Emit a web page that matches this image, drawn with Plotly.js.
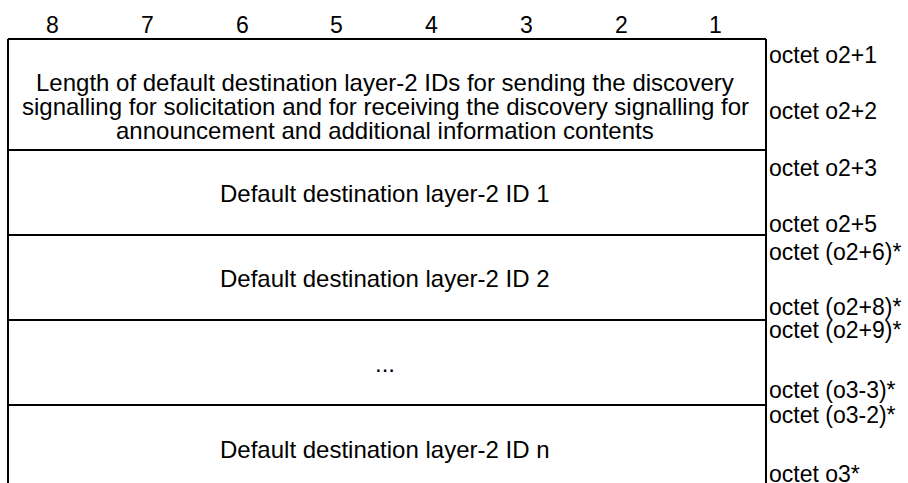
<!DOCTYPE html>
<html>
<head>
<meta charset="utf-8">
<script src="https://cdn.plot.ly/plotly-3.0.1.min.js"></script>
<style>html,body{margin:0;padding:0;background:#fff;}#chart{width:908px;height:483px;}</style>
</head>
<body>
<div id="chart"></div>
<script>
// ---- data ----
const bitLabels = ["8", "7", "6", "5", "4", "3", "2", "1"];
const headerLines = [
  "Length of default destination layer-2 IDs for sending the discovery",
  "signalling for solicitation and for receiving the discovery signalling for",
  "announcement and additional information contents"
];
const fieldNames = [
  "Default destination layer-2 ID 1",
  "Default destination layer-2 ID 2",
  "...",
  "Default destination layer-2 ID n"
];
const octetLabels = [
  "octet o2+1", "octet o2+2",
  "octet o2+3", "octet o2+5",
  "octet (o2+6)*", "octet (o2+8)*",
  "octet (o2+9)*", "octet (o3-3)*",
  "octet (o3-2)*", "octet o3*"
];

// ---- layout geometry (pixel coordinates on axes) ----
const W = 908, H = 483;
const boxL = 8, boxR = 766, boxTop = 39;
const rowEdges = [39, 150, 235, 320, 405];
const bitY = 25;
const headerY = [82, 106, 130];
const fieldY = [193, 278, 363, 449];
const octetY = [55, 111, 168, 224, 252, 307, 330, 390, 415, 474];
const font = {family: "Liberation Sans, Arial, sans-serif", size: 23, color: "#000"};
const bodyFont = {family: "Liberation Sans, Arial, sans-serif", size: 24, color: "#000"};
const colW = (boxR - boxL) / bitLabels.length;
const midX = (boxL + boxR) / 2 - 2;

const shapes = [];
const line = {color: "#000", width: 2};
shapes.push({type: "line", xref: "x", yref: "y", x0: boxL, x1: boxL, y0: boxTop, y1: H + 5, line});
shapes.push({type: "line", xref: "x", yref: "y", x0: boxR, x1: boxR, y0: boxTop, y1: H + 5, line});
rowEdges.forEach(y => shapes.push({type: "line", xref: "x", yref: "y", x0: boxL, x1: boxR, y0: y, y1: y, line}));

const annotations = [];
bitLabels.forEach((t, i) => annotations.push({
  x: boxL + colW * (i + 0.47), y: bitY, xref: "x", yref: "y", text: t, showarrow: false,
  xanchor: "center", yanchor: "middle", font
}));
headerLines.forEach((t, i) => annotations.push({
  x: midX, y: headerY[i], xref: "x", yref: "y", text: t, showarrow: false,
  xanchor: "center", yanchor: "middle", font: bodyFont
}));
fieldNames.forEach((t, i) => annotations.push({
  x: midX, y: fieldY[i], xref: "x", yref: "y", text: t, showarrow: false,
  xanchor: "center", yanchor: "middle", font: bodyFont
}));
octetLabels.forEach((t, i) => annotations.push({
  x: boxR + 1, y: octetY[i], xref: "x", yref: "y", text: t, showarrow: false,
  xanchor: "left", yanchor: "middle", font
}));

Plotly.newPlot("chart", [], {
  width: W, height: H,
  margin: {l: 0, r: 0, t: 0, b: 0, pad: 0},
  paper_bgcolor: "#fff", plot_bgcolor: "#fff",
  xaxis: {range: [0, W], visible: false, fixedrange: true},
  yaxis: {range: [H, 0], visible: false, fixedrange: true},
  shapes, annotations, showlegend: false
}, {staticPlot: true});
</script>
</body>
</html>
